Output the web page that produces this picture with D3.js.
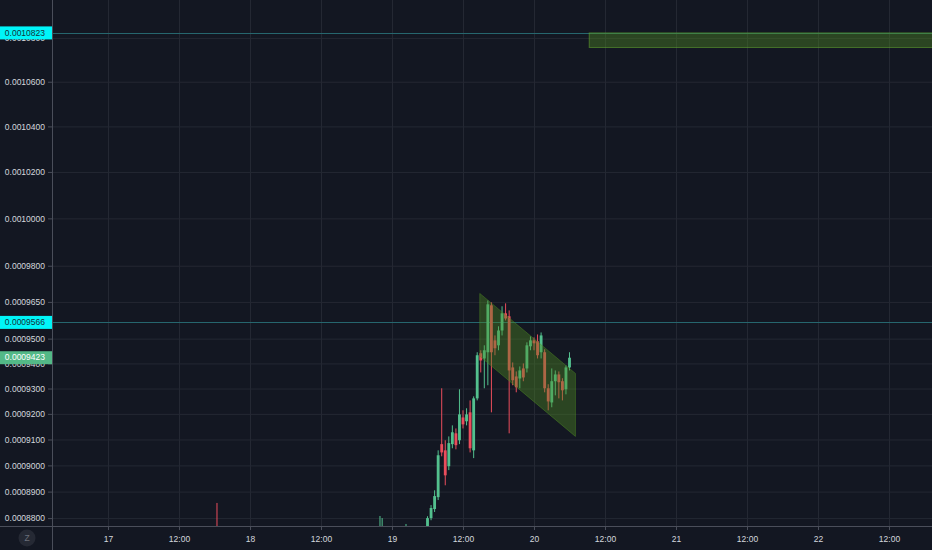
<!DOCTYPE html>
<html>
<head>
<meta charset="utf-8">
<script src="https://cdn.jsdelivr.net/npm/d3@7"></script>
<style>
  html, body { margin: 0; padding: 0; background: #131722; }
  svg { display: block; }
</style>
</head>
<body>
<svg id="chart" width="932" height="550"></svg>
<script>
// ---- data ----
const priceTicks = [0.00088, 0.00089, 0.00090, 0.00091, 0.00092, 0.00093, 0.00094,
                    0.00095, 0.000965, 0.00098, 0.00100, 0.00102, 0.00104, 0.00106, 0.00108];
const timeTickStart = "2021-01-17 00:00";
const timeTickEnd = "2021-01-22 12:00";

// 36-minute bars, first bar time
const barStart = "2021-01-19 06:00";
const barMinutes = 36;
const opens  = [0.0008756,0.0008800,0.0008834,0.0008879,0.0009082,0.0009058,0.0008997,0.0009082,0.0009124,0.0009097,
                0.0009186,0.0009171,0.0009206,0.0009058,0.0009261,0.0009441,0.0009420,0.0009445,0.0009636,0.0009493,
                0.0009473,0.0009533,0.0009603,0.0009591,0.0009384,0.0009348,0.0009340,0.0009380,0.0009380,0.0009469,
                0.0009493,0.0009489,0.0009445,0.0009445,0.0009301,0.0009245,0.0009329,0.0009356,0.0009329,0.0009297,0.0009384];
const highs  = [0.0008807,0.0008849,0.0008905,0.0009058,0.0009301,0.0009097,0.0009112,0.0009155,0.0009143,0.0009297,
                0.0009214,0.0009222,0.0009253,0.0009269,0.0009445,0.0009453,0.0009473,0.0009656,0.0009648,0.0009513,
                0.0009550,0.0009632,0.0009644,0.0009615,0.0009404,0.0009368,0.0009388,0.0009400,0.0009485,0.0009509,
                0.0009505,0.0009517,0.0009525,0.0009457,0.0009317,0.0009380,0.0009372,0.0009368,0.0009341,0.0009392,0.0009445];
const lows   = [0.0008749,0.0008792,0.0008823,0.0008868,0.0009035,0.0008924,0.0008982,0.0009066,0.0009062,0.0009082,
                0.0009143,0.0009155,0.0009050,0.0009028,0.0009253,0.0009364,0.0009301,0.0009313,0.0009206,0.0009433,
                0.0009453,0.0009513,0.0009574,0.0009124,0.0009313,0.0009285,0.0009301,0.0009329,0.0009364,0.0009453,
                0.0009453,0.0009420,0.0009420,0.0009285,0.0009214,0.0009226,0.0009273,0.0009261,0.0009253,0.0009277,0.0009372];
const closes = [0.0008800,0.0008838,0.0008883,0.0009039,0.0009050,0.0008962,0.0009086,0.0009128,0.0009078,0.0009198,
                0.0009159,0.0009198,0.0009066,0.0009261,0.0009433,0.0009412,0.0009453,0.0009640,0.0009445,0.0009461,
                0.0009533,0.0009603,0.0009582,0.0009372,0.0009333,0.0009305,0.0009372,0.0009344,0.0009473,0.0009493,
                0.0009481,0.0009433,0.0009513,0.0009301,0.0009249,0.0009329,0.0009356,0.0009325,0.0009293,0.0009384,0.0009423];

// thin earlier bars that mostly trade below the visible range
const earlyTimes  = ["2021-01-17 18:25", "2021-01-18 21:58", "2021-01-18 22:20", "2021-01-19 02:22"];
const earlyOpens  = [0.0008740, 0.0008720, 0.0008730, 0.0008720];
const earlyHighs  = [0.0008857, 0.0008808, 0.0008800, 0.0008778];
const earlyLows   = [0.0008690, 0.0008700, 0.0008700, 0.0008700];
const earlyCloses = [0.0008700, 0.0008760, 0.0008760, 0.0008750];

// drawn objects
const channelTimes  = ["2021-01-19 14:50", "2021-01-20 07:00", "2021-01-20 07:00", "2021-01-19 14:50"];
const channelPrices = [0.0009685, 0.0009360, 0.0009112, 0.0009429];
const zoneTimes  = ["2021-01-20 09:20", "2021-01-23 00:00"];
const zonePrices = [0.0010823, 0.0010756];
const levelPrices = [0.0010823, 0.0009566];
const lastPrice = closes[closes.length - 1];

// ---- layout ----
const W = 932, H = 550;
const plotLeft = 52, plotBottom = 526;
const parseT = d3.utcParse("%Y-%m-%d %H:%M");

const x = d3.scaleUtc()
  .domain([parseT("2021-01-16 14:32"), parseT("2021-01-22 19:16")])
  .range([plotLeft, W]);
const y = d3.scaleLog()
  .domain([0.00087704, 0.0010976])
  .range([plotBottom, 0]);

const svg = d3.select("#chart");
const FONT = "'Liberation Sans', Arial, sans-serif";
const gridColor = "#242833";
const axisColor = "#4a4e5a";
const textColor = "#d4d7de";
const upColor = "#53c08e";
const downColor = "#eb4d5c";

svg.append("rect").attr("width", W).attr("height", H).attr("fill", "#131722");

svg.append("defs").append("clipPath").attr("id", "plot")
  .append("rect").attr("x", plotLeft).attr("y", 0)
  .attr("width", W - plotLeft).attr("height", plotBottom);

const timeTicks = d3.utcHour.every(12).range(parseT(timeTickStart), d3.utcMinute.offset(parseT(timeTickEnd), 1));

// grid
const grid = svg.append("g").attr("clip-path", "url(#plot)");
grid.append("g")
  .attr("transform", `translate(0,${plotBottom})`)
  .call(d3.axisBottom(x).tickValues(timeTicks).tickSize(-plotBottom).tickFormat(""))
  .call(g => g.select(".domain").remove())
  .call(g => g.selectAll("line").attr("stroke", gridColor));
grid.append("g")
  .attr("transform", `translate(${plotLeft},0)`)
  .call(d3.axisLeft(y).tickValues(priceTicks).tickSize(-(W - plotLeft)).tickFormat(""))
  .call(g => g.select(".domain").remove())
  .call(g => g.selectAll("line").attr("stroke", gridColor));

// horizontal levels
const marks = svg.append("g").attr("clip-path", "url(#plot)");
marks.selectAll("line.level").data(levelPrices).join("line")
  .attr("class", "level")
  .attr("x1", plotLeft).attr("x2", W)
  .attr("y1", d => Math.round(y(d)) + 0.5).attr("y2", d => Math.round(y(d)) + 0.5)
  .attr("stroke", "#26666e").attr("stroke-width", 1);

// candles
const bars = opens.map((o, i) => ({
  t: d3.utcMinute.offset(parseT(barStart), i * barMinutes),
  o, h: highs[i], l: lows[i], c: closes[i]
})).concat(earlyTimes.map((t, i) => ({
  t: parseT(t), o: earlyOpens[i], h: earlyHighs[i], l: earlyLows[i], c: earlyCloses[i]
})));

const step = x(d3.utcMinute.offset(parseT(barStart), barMinutes)) - x(parseT(barStart));
const bodyW = Math.max(1, step * 0.8);

const candle = marks.append("g").selectAll("g").data(bars).join("g");
candle.append("line")
  .attr("x1", d => x(d.t)).attr("x2", d => x(d.t))
  .attr("y1", d => y(d.h)).attr("y2", d => y(d.l))
  .attr("stroke", d => d.c >= d.o ? upColor : downColor)
  .attr("stroke-width", 1);
candle.append("rect")
  .attr("x", d => x(d.t) - bodyW / 2)
  .attr("width", bodyW)
  .attr("y", d => y(Math.max(d.o, d.c)))
  .attr("height", d => Math.max(1, y(Math.min(d.o, d.c)) - y(Math.max(d.o, d.c))))
  .attr("fill", d => d.c >= d.o ? upColor : downColor);

// falling channel
marks.append("polygon")
  .attr("points", channelTimes.map((t, i) => [x(parseT(t)), y(channelPrices[i])].join(",")).join(" "))
  .attr("fill", "rgba(80,140,36,0.40)")
  .attr("stroke", "rgba(80,140,36,0.45)")
  .attr("stroke-width", 1);

// target zone
const zx0 = x(parseT(zoneTimes[0])), zx1 = x(parseT(zoneTimes[1]));
marks.append("rect")
  .attr("x", zx0).attr("width", zx1 - zx0)
  .attr("y", y(zonePrices[0])).attr("height", y(zonePrices[1]) - y(zonePrices[0]))
  .attr("fill", "rgba(80,140,36,0.40)")
  .attr("stroke", "rgba(100,170,50,0.55)")
  .attr("stroke-width", 1);

// axes lines
svg.append("line").attr("x1", plotLeft + 0.5).attr("x2", plotLeft + 0.5)
  .attr("y1", 0).attr("y2", H).attr("stroke", axisColor);
svg.append("line").attr("x1", 0).attr("x2", W)
  .attr("y1", plotBottom + 0.5).attr("y2", plotBottom + 0.5).attr("stroke", axisColor);

// price axis
const fmtPrice = d3.format(".7f");
svg.append("g")
  .attr("transform", `translate(${plotLeft},0)`)
  .call(d3.axisLeft(y).tickValues(priceTicks).tickFormat(fmtPrice).tickSize(4).tickPadding(3))
  .call(g => g.select(".domain").remove())
  .call(g => g.selectAll("line").attr("stroke", axisColor))
  .call(g => g.selectAll("text").attr("fill", textColor)
    .style("font-family", FONT).style("font-size", "8.5px"));

// time axis
const fmtTime = d => d.getUTCHours() === 0 ? String(d.getUTCDate()) : d3.utcFormat("%H:%M")(d);
svg.append("g")
  .attr("transform", `translate(0,${plotBottom})`)
  .call(d3.axisBottom(x).tickValues(timeTicks).tickFormat(fmtTime).tickSize(4).tickPadding(6))
  .call(g => g.select(".domain").remove())
  .call(g => g.selectAll("line").attr("stroke", axisColor))
  .call(g => g.selectAll("text").attr("fill", textColor)
    .style("font-family", FONT).style("font-size", "8.5px"));

// price labels on the axis
const tags = [
  { p: levelPrices[0], bg: "#00f5f8", fg: "#14323a" },
  { p: levelPrices[1], bg: "#00f5f8", fg: "#14323a" },
  { p: lastPrice, bg: "#53b987", fg: "#ffffff" }
];
const tag = svg.append("g").selectAll("g").data(tags).join("g")
  .attr("transform", d => `translate(0,${y(d.p)})`);
tag.append("rect")
  .attr("x", 0).attr("y", -6.5).attr("width", plotLeft).attr("height", 13)
  .attr("fill", d => d.bg);
tag.append("text")
  .attr("x", 45).attr("dy", "0.32em").attr("text-anchor", "end")
  .attr("fill", d => d.fg)
  .style("font-family", FONT).style("font-size", "8.5px")
  .text(d => fmtPrice(d.p));

// auto-scale button
svg.append("circle").attr("cx", 27).attr("cy", 538).attr("r", 8.5).attr("fill", "#252934");
svg.append("text").attr("x", 27).attr("y", 538).attr("dy", "0.35em")
  .attr("text-anchor", "middle").attr("fill", "#6b6f7a")
  .style("font-family", FONT).style("font-size", "8.5px").text("Z");
</script>
</body>
</html>
